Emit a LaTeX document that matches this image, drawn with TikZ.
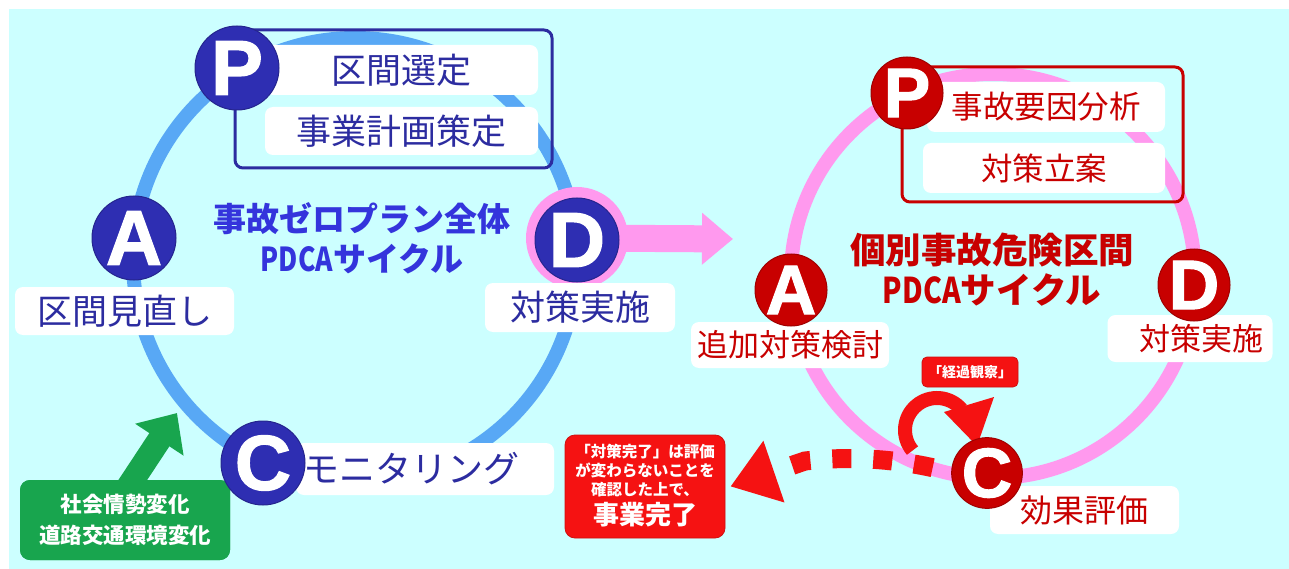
\documentclass[tikz,border=0pt]{standalone}
\usepackage{fontspec}
\newfontfamily\jp{Noto Sans CJK JP}
\newfontfamily\bigL[FakeBold=1.5]{Liberation Sans Bold}
\usetikzlibrary{arrows.meta,calc}
\definecolor{bgcyan}{RGB}{204,255,255}
\definecolor{ringblue}{RGB}{88,168,245}
\definecolor{ringpink}{RGB}{255,153,238}
\definecolor{dblue}{RGB}{46,46,178}
\definecolor{tblue}{RGB}{44,44,160}
\definecolor{ttblue}{RGB}{52,52,220}
\definecolor{dred}{RGB}{200,0,0}
\definecolor{bred}{RGB}{245,18,18}
\definecolor{gr}{RGB}{24,165,78}
\newcommand{\pdca}{\scalebox{0.8}[1]{PDCA}}
\begin{document}
\begin{tikzpicture}[x=1pt,y=1pt,
  wbox/.style={fill=white, rounded corners=8pt, inner sep=0pt},
  pframe/.style={line width=3pt, rounded corners=8pt, inner sep=0pt},
  ltxt/.style={text=tblue, font=\jp\fontsize{35}{35}\selectfont},
  rtxt/.style={text=dred, font=\jp\fontsize{31.5}{31.5}\selectfont},
  lcirc/.style={circle, fill=dblue, draw=dblue!80!black, line width=1pt, minimum size=84pt, inner sep=0pt, text=white, font=\bigL\fontsize{78}{78}\selectfont},
  rcirc/.style={circle, fill=dred, draw=dred!80!black, line width=1pt, minimum size=72pt, inner sep=0pt, text=white, font=\bigL\fontsize{70}{70}\selectfont},
  redbox/.style={fill=bred, draw=bred!85!black, line width=0.8pt, inner sep=0pt},
]
\useasboundingbox (0,0) rectangle (1289,-569);
\fill[white] (0,0) rectangle (1289,-569);
\fill[bgcyan] (9,-9) rectangle (1289,-569);

% rings
\draw[ringblue, line width=14pt] (355,-260) circle[radius=222];
\draw[ringpink, line width=14pt] (993,-276) circle[radius=202];

% P frames
\node[pframe, draw=tblue, minimum width=317pt, minimum height=138pt] (PF1) at (393.5,-99) {};
\node[pframe, draw=dred, minimum width=281pt, minimum height=135pt] (PF2) at (1042.5,-134.5) {};

% pink ring around D and pink arrow
\coordinate (pinktip) at (733,-239);
\node[circle, fill=ringpink, minimum size=102pt, inner sep=0pt] (Dring) at (577,-238) {};
\draw[ringpink, line width=27pt, -{Triangle[width=50pt,length=31pt]}] (Dring.center) -- (pinktip);

% white boxes, left cycle
\node[wbox, ltxt, minimum width=273pt, minimum height=50pt] (b11) at (401.5,-70) {区間選定};
\node[wbox, ltxt, minimum width=273pt, minimum height=48pt] (b12) at (401.5,-131) {事業計画策定};
\node[wbox, ltxt, minimum width=219pt, minimum height=48pt] (bA1) at (124.5,-311) {区間見直し};
\node[wbox, ltxt, minimum width=190pt, minimum height=49pt] (bD1) at (580,-307.5) {対策実施};
\node[wbox, ltxt, font=\jp\fontsize{36}{36}\selectfont, minimum width=258pt, minimum height=52pt] (bC1) at (425,-469) {モニタリング\rule{28pt}{0pt}};

% white boxes, right cycle
\node[wbox, rtxt, minimum width=238pt, minimum height=50pt] (b21) at (1046,-107) {事故要因分析};
\node[wbox, rtxt, minimum width=242pt, minimum height=50pt] (b22) at (1044,-168) {対策立案};
\node[wbox, rtxt, font=\jp\fontsize{31}{31}\selectfont, minimum width=198pt, minimum height=46pt] (bA2) at (790,-345) {追加対策検討};
\node[wbox, rtxt, font=\jp\fontsize{31}{31}\selectfont, minimum width=165pt, minimum height=47pt] (bD2) at (1190,-338.5) {\hspace{22pt}対策実施};
\node[wbox, rtxt, font=\jp\fontsize{32}{32}\selectfont, minimum width=189pt, minimum height=48pt] (bC2) at (1084.5,-510) {効果評価};

% titles
\node[text=ttblue, font=\jp\bfseries\fontsize{33}{40}\selectfont, align=center] (t1) at (362,-238) {事故ゼロプラン全体\\\pdca サイクル};
\node[text=dred, font=\jp\bfseries\fontsize{35.5}{40}\selectfont, align=center] (t2) at (992,-270) {個別事故危険区間\\\pdca サイクル};

% green box and arrow
\node[fill=gr, rounded corners=10pt, minimum width=210pt, minimum height=80pt, inner sep=0pt] (gbox) at (125,-520) {};
\coordinate (gtip) at (177,-413);
\draw[gr, line width=24pt, -{Triangle[width=56pt,length=32pt]}] ([yshift=-12pt]gbox.north) -- (gtip);
\node[fill=gr, rounded corners=10pt, minimum width=210pt, minimum height=80pt, inner sep=0pt, text=white, font=\jp\bfseries\fontsize{21.5}{31}\selectfont, align=center] (gtext) at (125,-520) {社会情勢変化\\道路交通環境変化};

% letter circles
\node[lcirc] (P1) at (237,-68) {P};
\node[lcirc] (A1) at (134,-238) {A};
\node[lcirc] (D1) at (577,-240) {D};
\node[lcirc] (C1) at (263,-463) {C};
\node[rcirc] (P2) at (907,-93) {P};
\node[rcirc] (A2) at (791,-290) {A};
\node[rcirc] (D2) at (1194,-285) {D};

% red completion box
\node[redbox, rounded corners=10pt, minimum width=160pt, minimum height=103pt] (done) at (645,-486.5) {};
\node[text=white, font=\jp\bfseries\fontsize{15.5}{19}\selectfont, align=center] (doneA) at (645,-471) {「対策完了」は評価\\が変わらないことを\\確認した上で、};
\node[text=white, font=\jp\bfseries\fontsize{26}{26}\selectfont] (doneB) at (645,-515) {事業完了};

% dotted arrow from C to completion box
\draw[bred, line width=19pt, dash pattern=on 19pt off 22pt, dash phase=19pt, -{Triangle[width=62pt,length=46pt]}]
  (954,-473) .. controls (900,-458) and (850,-456) .. (805,-461) -- ([xshift=5pt]done.east);

% "keika kansatsu" label and loop arrow
\node[redbox, rounded corners=5pt, minimum width=96pt, minimum height=30pt, text=white, font=\jp\bfseries\fontsize{14}{14}\selectfont] (kk) at (970,-372) {「経過観察」};
\draw[bred, line width=14pt] ($(937,-430)+(220:32)$) arc[start angle=220, end angle=40, radius=32];
\fill[bred] (944,-412) -- (994,-397) -- (977,-446) -- cycle;

\node[rcirc, minimum size=68pt] (C2) at (987,-473) {C};
\end{tikzpicture}
\end{document}
